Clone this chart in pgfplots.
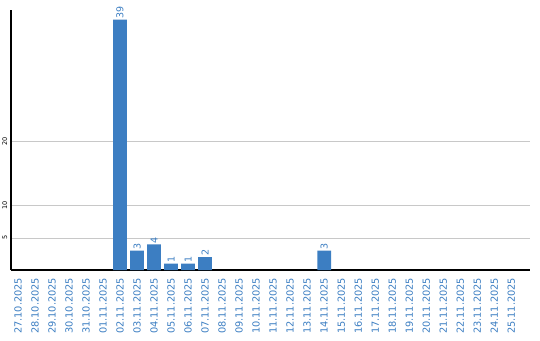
\documentclass[border=0pt]{standalone}
\usepackage{pgfplots}
\pgfplotsset{compat=1.18}
\usepackage{fontspec}
\setmainfont{DejaVu Sans}
\definecolor{barblue}{HTML}{3C7EC2}
\definecolor{gridgray}{HTML}{C8C8C8}
\begin{document}
\begin{tikzpicture}[x=1pt,y=1pt]
\useasboundingbox (0,0) rectangle (540,340);
\begin{axis}[
  at={(11pt,70pt)}, anchor=south west,
  scale only axis, width=519pt, height=260pt,
  ymin=0, ymax=40.5,
  xmin=-0.41, xmax=30.1,
  axis x line=bottom, axis y line=left,
  axis line style={black, line width=1.3pt, -},
  ytick={5,10,20},
  ymajorgrids, grid style={gridgray, line width=0.8pt},
  yticklabel style={font=\fontsize{6.5}{7}\selectfont, rotate=90, anchor=south, black, inner sep=1.5pt},
  ytick style={draw=none},
  xtick={0,...,29},
  xtick style={draw=none},
  xticklabels={27.10.2025,28.10.2025,29.10.2025,30.10.2025,31.10.2025,01.11.2025,02.11.2025,03.11.2025,04.11.2025,05.11.2025,06.11.2025,07.11.2025,08.11.2025,09.11.2025,10.11.2025,11.11.2025,12.11.2025,13.11.2025,14.11.2025,15.11.2025,16.11.2025,17.11.2025,18.11.2025,19.11.2025,20.11.2025,21.11.2025,22.11.2025,23.11.2025,24.11.2025,25.11.2025},
  xticklabel style={font=\fontsize{9.8}{10}\selectfont, rotate=90, anchor=east, text=barblue},
  /pgf/number format/assume math mode=true,
  ybar, bar width=13.7pt, bar shift=0pt,
  nodes near coords,
  nodes near coords style={font=\fontsize{9.5}{10}\selectfont, rotate=90, anchor=west, text=barblue, inner sep=1pt},
  clip=false,
]
\addplot[fill=barblue, draw=none] coordinates {
(6,39) (7,3) (8,4) (9,1) (10,1) (11,2) (18,3)
};
\end{axis}
\end{tikzpicture}
\end{document}
